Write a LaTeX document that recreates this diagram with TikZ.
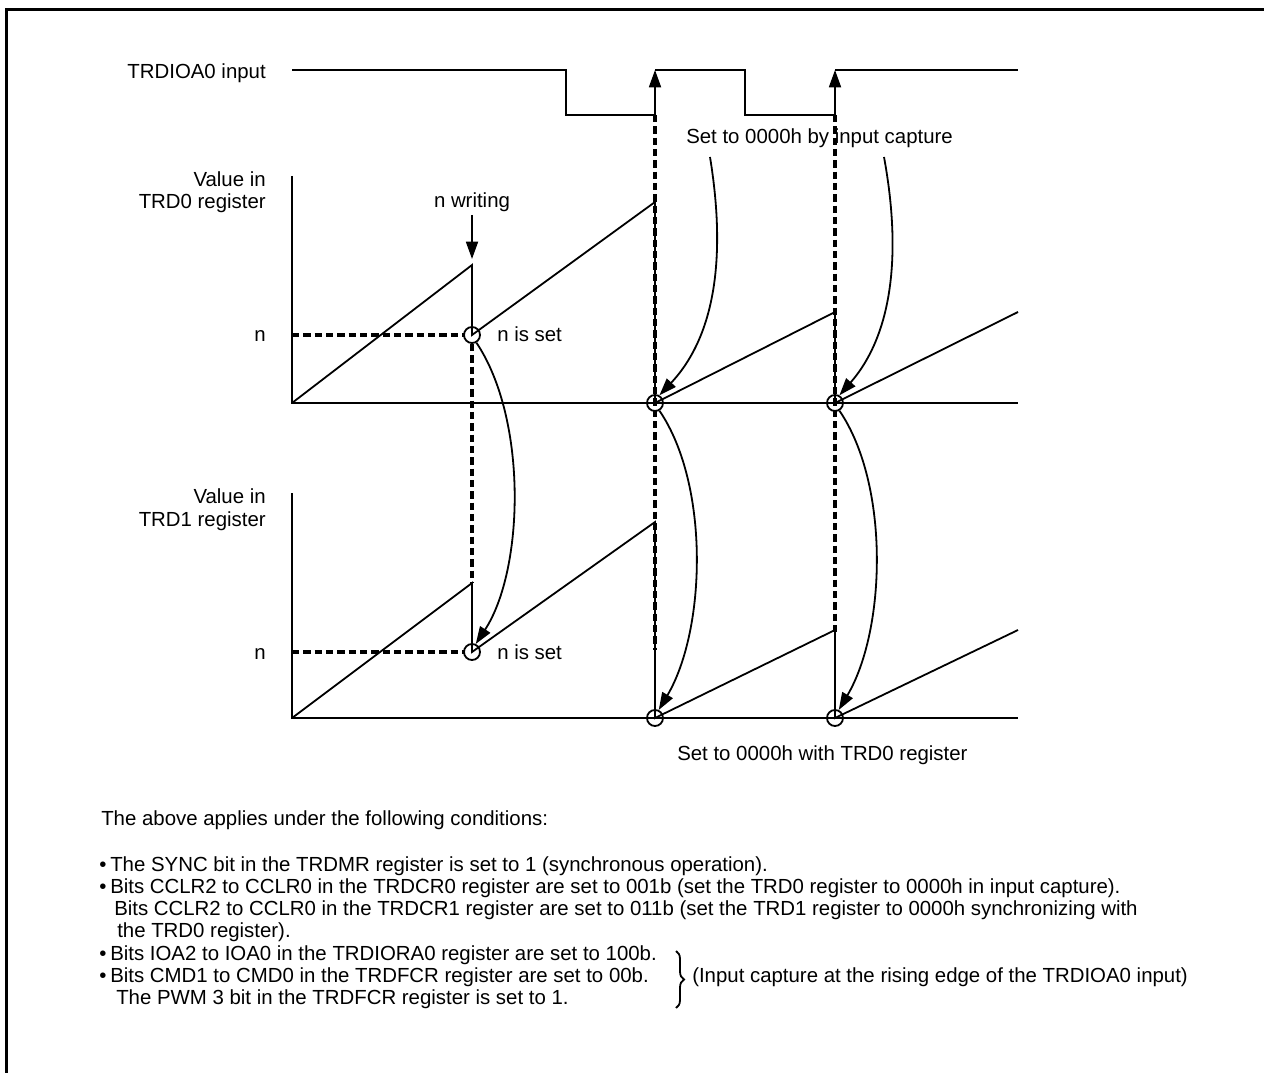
\documentclass[tikz,border=0pt]{standalone}
\usepackage{fontspec}
\setmainfont{Liberation Sans}
\usetikzlibrary{arrows.meta,decorations.pathreplacing}
\begin{document}
\begin{tikzpicture}[x=0.75pt,y=-0.75pt,
  wire/.style={line width=1.35pt},
  dline/.style={line width=2.4pt, dash pattern=on 5.5pt off 3pt},
  arr/.style={line width=1.35pt,-{Triangle[length=13pt,width=9pt]}},
  lbl/.style={font=\fontsize{15.3}{16.5}\selectfont, inner sep=0pt},
  ring/.style={circle, draw, line width=1.35pt, minimum size=12pt, inner sep=0pt},
]
\useasboundingbox (0,0) rectangle (1264,1073);
% frame (top and left)
\draw[line width=2.3pt] (6.5,1073) -- (6.5,9.5) -- (1264,9.5);

% ---------------- TRDIOA0 input ----------------
\node[lbl, anchor=base east] (lin) at (266,79) {TRDIOA0 input};
\coordinate (r1lo) at (655,115); \coordinate (r1hi) at (655,70);
\coordinate (r2lo) at (835,115); \coordinate (r2hi) at (835,70);
\draw[wire] (292,70) -- (566,70) -- (566,115) -- (r1lo);
\draw[wire] (r1hi) -- (745,70) -- (745,115) -- (r2lo);
\draw[wire] (r2hi) -- (1018,70);
\draw[arr] (r1lo) -- (r1hi);
\draw[arr] (r2lo) -- (r2hi);

% ---------------- TRD0 ----------------
\node[lbl, anchor=base east] (v0a) at (266,187) {Value in};
\node[lbl, anchor=base east] (v0b) at (266,209) {TRD0 register};
\node[lbl, anchor=base east] (n0) at (266,342) {n};
\draw[wire] (292,176) -- (292,403) -- (1018,403);
\draw[wire] (292,403) -- (472,265) -- (472,335) -- (655,202) -- (655,403)
            -- (835,312) -- (835,403) -- (1018,312);
\draw[dline] (292,335) -- (465,335);
\node[ring] (c0) at (472,335) {};
\node[ring] (c1) at (655,403) {};
\node[ring] (c2) at (835,403) {};
\node[lbl, anchor=base west] (nset0) at (497,342) {n is set};
\node[lbl, anchor=base] (nw) at (472,208) {n writing};
\coordinate (nwend) at (472,259);
\draw[arr] (472,215) -- (nwend);
\node[lbl, anchor=base west] (cap) at (686,144) {Set to 0000h by input capture};

% ---------------- TRD1 ----------------
\node[lbl, anchor=base east] (v1a) at (266,503) {Value in};
\node[lbl, anchor=base east] (v1b) at (266,526) {TRD1 register};
\node[lbl, anchor=base east] (n1) at (266,659) {n};
\draw[wire] (292,493) -- (292,718) -- (1018,718);
\draw[wire] (292,718) -- (472,583) -- (472,652) -- (655,522) -- (655,718)
            -- (835,630) -- (835,718) -- (1018,630);
\draw[dline] (292,652) -- (465,652);
\node[ring] (d0) at (472,652) {};
\node[ring] (d1) at (655,718) {};
\node[ring] (d2) at (835,718) {};
\node[lbl, anchor=base west] (nset1) at (497,659) {n is set};
\node[lbl, anchor=base west] (clr) at (677,760) {Set to 0000h with TRD0 register};

% vertical dashed guide lines
\draw[dline] (c0.south) -- (472,583);
\draw[dline] (r1lo) -- (655,650);
\draw[dline] (r2lo) -- (835,632);

% curved arrows: input capture
\draw[arr] (710,157) .. controls (726,255) and (716,335) .. (c1.60);
\draw[arr] (884,157) .. controls (902,255) and (892,335) .. (c2.60);
% curved arrows: TRD0 -> TRD1
\draw[arr] (c0.-60) .. controls (528,420) and (524,570) .. (d0.65);
\draw[arr] (c1.-60) .. controls (710,485) and (706,630) .. (d1.65);
\draw[arr] (c2.-60) .. controls (890,485) and (886,630) .. (d2.65);

% ---------------- conditions ----------------
\node[lbl, anchor=base west] (t0) at (101,825) {The above applies under the following conditions:};
\node[lbl, anchor=base west] (b1) at (99,871) {\textbullet};
\node[lbl, anchor=base west] (l1) at (110,871) {The SYNC bit in the TRDMR register is set to 1 (synchronous operation).};
\node[lbl, anchor=base west] (b2) at (99,893) {\textbullet};
\node[lbl, anchor=base west] (l2) at (110,893) {Bits CCLR2 to CCLR0 in the TRDCR0 register are set to 001b (set the TRD0 register to 0000h in input capture).};
\node[lbl, anchor=base west] (l3) at (114,915) {Bits CCLR2 to CCLR0 in the TRDCR1 register are set to 011b (set the TRD1 register to 0000h synchronizing with};
\node[lbl, anchor=base west] (l4) at (117,937) {the TRD0 register).};
\node[lbl, anchor=base west] (b5) at (99,960) {\textbullet};
\node[lbl, anchor=base west] (l5) at (110,960) {Bits IOA2 to IOA0 in the TRDIORA0 register are set to 100b.};
\node[lbl, anchor=base west] (b6) at (99,982) {\textbullet};
\node[lbl, anchor=base west] (l6) at (110,982) {Bits CMD1 to CMD0 in the TRDFCR register are set to 00b.};
\node[lbl, anchor=base west] (l7) at (116,1004) {The PWM 3 bit in the TRDFCR register is set to 1.};
\coordinate (brt) at (676,951);
\coordinate (brb) at (676,1008);
\draw[line width=1.35pt, decorate, decoration={brace, amplitude=6pt}] (brt) -- (brb);
\node[lbl, anchor=base west] (note) at (692,982) {(Input capture at the rising edge of the TRDIOA0 input)};
\end{tikzpicture}
\end{document}
